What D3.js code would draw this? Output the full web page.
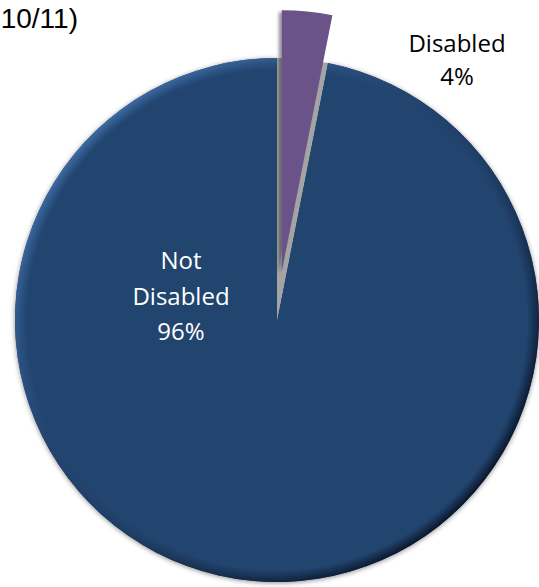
<!DOCTYPE html>
<html>
<head>
<meta charset="utf-8">
<script src="https://cdn.jsdelivr.net/npm/d3@7"></script>
<style>
  html, body { margin: 0; padding: 0; background: #fff; }
  svg { display: block; }
</style>
</head>
<body>
<script>
// ---- data ----
const categories = ["Disabled", "Not Disabled"];
const values = [3.1, 96.9];               // share of the pie
const percentLabels = ["4%", "96%"];       // labels as printed on the chart
const labelLines = [["Disabled", "4%"], ["Not", "Disabled", "96%"]];
const titleText = "10/11)";
const colors = ["#6b5388", "#24456f"];

// ---- layout ----
const W = 539, H = 587;
const cx = 277, cy = 320, R = 262;
const explode = 48;

const svg = d3.select("body").append("svg").attr("width", W).attr("height", H);
const defs = svg.append("defs");

const sh = defs.append("filter").attr("id", "shadow")
  .attr("x", "-10%").attr("y", "-10%").attr("width", "120%").attr("height", "120%");
sh.append("feDropShadow").attr("dx", 0).attr("dy", 1).attr("stdDeviation", 2.5)
  .attr("flood-color", "#000").attr("flood-opacity", 0.45);

const sh2 = defs.append("filter").attr("id", "shadow2")
  .attr("x", "-30%").attr("y", "-10%").attr("width", "160%").attr("height", "120%");
sh2.append("feDropShadow").attr("dx", -3).attr("dy", 2).attr("stdDeviation", 1.5)
  .attr("flood-color", "#000").attr("flood-opacity", 0.4);

const lin = defs.append("linearGradient").attr("id", "rimLin")
  .attr("gradientUnits", "userSpaceOnUse")
  .attr("x1", -R * 0.7).attr("y1", -R * 0.7).attr("x2", R * 0.7).attr("y2", R * 0.7);
[[0, "#3e6ba4"], [0.35, "#24456f"], [0.6, "#1e3b60"], [1, "#0a162a"]].forEach(([o, c]) =>
  lin.append("stop").attr("offset", o).attr("stop-color", c));

const rad = defs.append("radialGradient").attr("id", "rimRad")
  .attr("gradientUnits", "userSpaceOnUse").attr("cx", 0).attr("cy", 0).attr("r", R);
[[0, "#000"], [(R - 12) / R, "#000"], [1, "#fff"]].forEach(([o, c]) =>
  rad.append("stop").attr("offset", o).attr("stop-color", c));
defs.append("mask").attr("id", "rimMask")
  .attr("maskUnits", "userSpaceOnUse").attr("x", -R - 5).attr("y", -R - 5)
  .attr("width", 2 * R + 10).attr("height", 2 * R + 10)
  .append("rect").attr("x", -R - 5).attr("y", -R - 5)
  .attr("width", 2 * R + 10).attr("height", 2 * R + 10).attr("fill", "url(#rimRad)");

const pie = d3.pie().sort(null).value(d => d)
  .startAngle(0).endAngle(2 * Math.PI);
const arcs = pie(values);
const arc = d3.arc().innerRadius(0).outerRadius(R);

const g = svg.append("g").attr("transform", `translate(${cx},${cy})`);

// main (Not Disabled) slice
g.append("path").attr("d", arc(arcs[1])).attr("fill", colors[1]).attr("filter", "url(#shadow)");
g.append("path").attr("d", arc(arcs[1])).attr("fill", "url(#rimLin)").attr("mask", "url(#rimMask)");

// shadow left behind in the gap of the exploded slice
g.append("path").attr("d", arc(arcs[0])).attr("fill", "#a4a4a4");

// exploded Disabled slice
const mid = (arcs[0].startAngle + arcs[0].endAngle) / 2;
const ox = Math.sin(mid) * explode, oy = -Math.cos(mid) * explode;
g.append("path").attr("d", arc(arcs[0])).attr("fill", colors[0])
  .attr("transform", `translate(${ox},${oy})`).attr("filter", "url(#shadow2)");

// labels
const font = "'Open Sans', 'Noto Sans', sans-serif";
const labelPos = [{ x: 457, y: 52, fill: "#000" }, { x: 181, y: 269, fill: "#fff" }];
const lineH = [33, 35.5];
labelLines.forEach((lines, i) => {
  const t = svg.append("text").attr("text-anchor", "middle")
    .attr("font-family", font).attr("font-size", 24).attr("fill", labelPos[i].fill);
  lines.forEach((ln, j) => {
    t.append("tspan").attr("x", labelPos[i].x).attr("y", labelPos[i].y + j * lineH[i]).text(ln);
  });
});

// title fragment (cut at the left edge in the original)
svg.append("text").attr("x", 78).attr("y", 28).attr("text-anchor", "end")
  .attr("font-family", "'Liberation Sans', Arial, sans-serif").attr("font-size", 28)
  .attr("fill", "#000").text(titleText);
</script>
</body>
</html>
